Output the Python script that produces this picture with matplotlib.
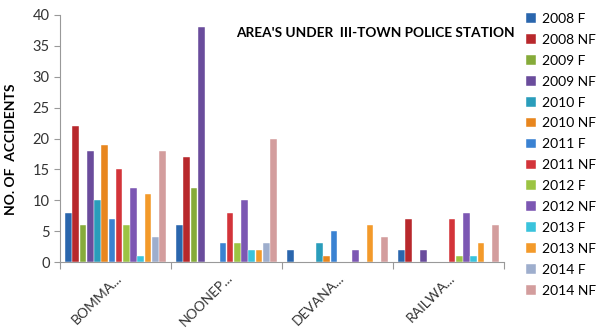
import numpy as np
import matplotlib
matplotlib.use("Agg")
import matplotlib.pyplot as plt

plt.rcParams['font.family'] = ['Lato', 'DejaVu Sans']

# areas (x categories)
areas = ["BOMMA...", "NOONEP...", "DEVANA...", "RAILWA..."]

# series names
series = ["2008 F", "2008 NF", "2009 F", "2009 NF", "2010 F", "2010 NF",
          "2011 F", "2011 NF", "2012 F", "2012 NF", "2013 F", "2013 NF",
          "2014 F", "2014 NF"]

# accidents per area, one list per series
v2008_f = [8, 6, 2, 2]
v2008_nf = [22, 17, 0, 7]
v2009_f = [6, 12, 0, 0]
v2009_nf = [18, 38, 0, 2]
v2010_f = [10, 0, 3, 0]
v2010_nf = [19, 0, 1, 0]
v2011_f = [7, 3, 5, 0]
v2011_nf = [15, 8, 0, 7]
v2012_f = [6, 3, 0, 1]
v2012_nf = [12, 10, 2, 8]
v2013_f = [1, 2, 0, 1]
v2013_nf = [11, 2, 6, 3]
v2014_f = [4, 3, 0, 0]
v2014_nf = [18, 20, 4, 6]

values = [v2008_f, v2008_nf, v2009_f, v2009_nf, v2010_f, v2010_nf,
          v2011_f, v2011_nf, v2012_f, v2012_nf, v2013_f, v2013_nf,
          v2014_f, v2014_nf]

colors = ["#2a66ad", "#b8282c", "#86ab3a", "#6a4c9c", "#2a9dbb", "#e8861e",
          "#3a82d2", "#d3343a", "#9cc443", "#7c57b3", "#3ac3dc", "#f39a2a",
          "#9eaecd", "#d39d9d"]

fig = plt.figure(figsize=(6.02, 3.29), dpi=100)
ax = fig.add_axes([60/602, 67/329, 444/602, 247/329])

x = np.arange(len(areas))
w = 0.065
for i, (name, vals) in enumerate(zip(series, values)):
    off = (i - (len(series) - 1) / 2) * w
    ax.bar(x + off, vals, width=w * 0.92, color=colors[i], label=name,
           edgecolor="#ffffff", linewidth=0.3)

ax.set_xlim(-0.5, 3.5)
ax.set_ylim(0, 40)
ax.set_yticks(range(0, 41, 5))
ax.set_xticks(np.arange(-0.5, 4.0, 1.0), minor=False)
ax.set_xticklabels([])
ax.set_xticks(x, minor=True)
ax.set_xticklabels(areas, minor=True, rotation=45, ha="right",
                   rotation_mode="anchor", fontsize=10, color="#333333")
ax.tick_params(axis="x", which="minor", length=0, pad=7)
ax.tick_params(axis="x", which="major", length=5, color="#999999")
ax.tick_params(axis="y", length=4, color="#999999", labelsize=10.5,
               labelcolor="#333333")

for s in ["top", "right"]:
    ax.spines[s].set_visible(False)
ax.spines["left"].set_color("#999999")
ax.spines["bottom"].set_color("#999999")

ax.set_ylabel("NO. OF  ACCIDENTS", fontsize=10, fontweight="bold")
ax.yaxis.set_label_coords(-43/444, (262 - 149) / 247)
fig.text(375/602, 1 - 33/329, "AREA'S UNDER  III-TOWN POLICE STATION",
         ha="center", va="center", fontsize=9.8, fontweight="bold")

fig.legend(loc="upper left", bbox_to_anchor=(526/602, 1 - 13/329),
           frameon=False, fontsize=10, labelspacing=0.64,
           handlelength=0.7, handleheight=0.7, handletextpad=0.45,
           borderaxespad=0, borderpad=0)

fig.savefig("out.png", dpi=100)
